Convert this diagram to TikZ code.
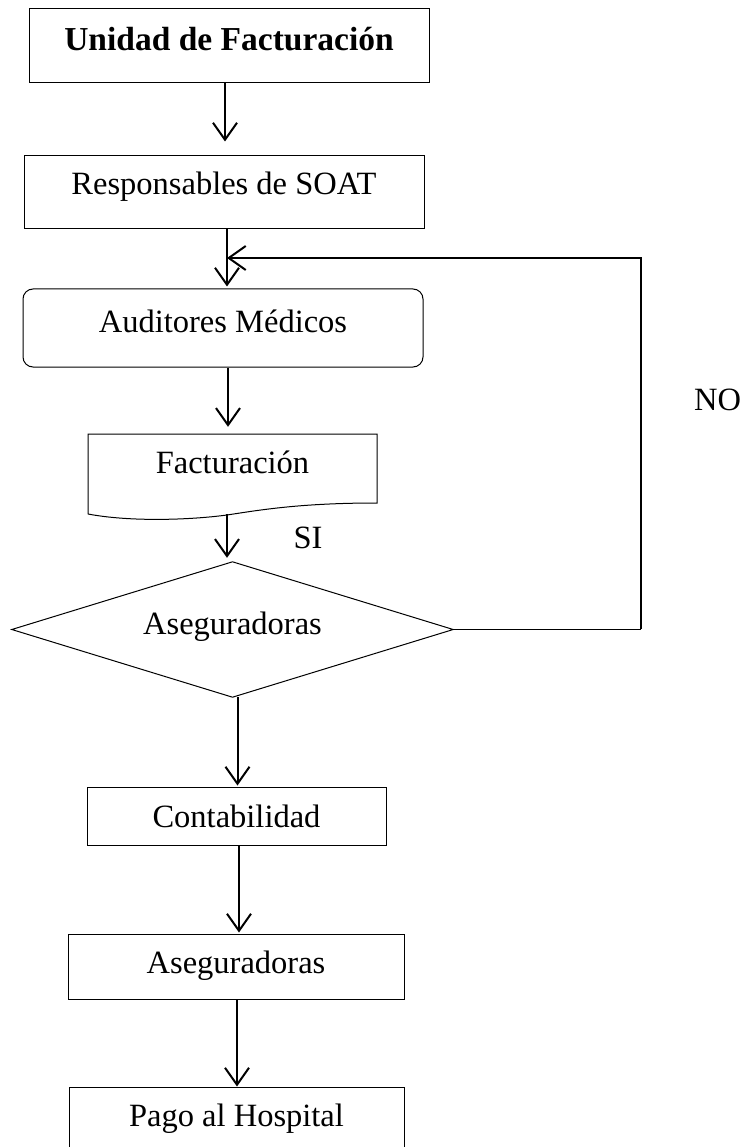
\documentclass[tikz,border=0pt]{standalone}
\usepackage{fontspec}
\setmainfont{Liberation Serif}
\usetikzlibrary{arrows.meta,calc}
\begin{document}
\begin{tikzpicture}[x=1pt,y=-1pt,
  txt/.style={font=\fontsize{32.5}{38}\selectfont},
  stepbox/.style={txt,draw,line width=1pt,inner sep=0pt,text height=21.5pt},
  conn/.style={line width=2pt,-{Straight Barb[length=17pt,width=24pt,line width=2pt]}},
  loopline/.style={line width=1.2pt}]
\clip (0,0) rectangle (746,1147);

% process boxes
\node[stepbox,minimum width=400pt,minimum height=74pt,text depth=12.5pt,
      font=\fontsize{33.5}{39}\selectfont\bfseries,text height=22.5pt]
  (u1) at (229,46) {Unidad de Facturación};
\node[stepbox,minimum width=400pt,minimum height=73pt,text depth=16.5pt]
  (soat) at (224,192.5) {Responsables de SOAT};
\node[stepbox,rounded corners=10pt,minimum width=400pt,minimum height=78pt,text depth=13.5pt]
  (aud) at (223,328) {Auditores Médicos};

% document shape with wavy bottom
\node[txt,inner sep=0pt,minimum width=289pt,minimum height=69pt,text height=21.5pt,text depth=12.5pt]
  (fact) at (232.5,468.5) {Facturación};
\draw[line width=1pt] (88,514) -- (88,434) -- (377,434) -- (377,503)
  .. controls (300,503) and (260,510) .. (227,515)
  .. controls (190,520) and (130,522) .. (88,514);

% decision: a diamond spanning the node's four side anchors
\node[txt,inner sep=0pt,minimum width=441pt,minimum height=135pt,text height=21.5pt,text depth=12.5pt]
  (dia) at (232.5,629.5) {Aseguradoras};
\draw[line width=1pt] (dia.north) -- (dia.east) -- (dia.south) -- (dia.west) -- cycle;

\node[stepbox,minimum width=299pt,minimum height=58pt,text height=22pt,text depth=0pt]
  (cont) at (236.5,816) {Contabilidad};
\node[stepbox,minimum width=336pt,minimum height=65pt,text depth=8.5pt]
  (aseg) at (236,966.5) {Aseguradoras};
\node[stepbox,minimum width=335pt,minimum height=73pt,text depth=16.5pt]
  (pago) at (236.5,1123.5) {Pago al Hospital};

% labels
\node[txt,anchor=base,inner sep=0pt] (si) at (308,548) {SI};
\node[txt,anchor=base,inner sep=0pt] (no) at (717.5,410) {NO};

% connectors
\draw[conn,shorten >=14pt] ([xshift=-4pt]u1.south) -- ([xshift=-4pt]u1.south |- soat.north);
\draw[conn,shorten >=2pt] ([xshift=3pt]soat.south) -- ([xshift=3pt]soat.south |- aud.north);
\draw[conn,shorten >=7pt] ([xshift=5pt]aud.south) -- ([xshift=5pt]aud.south |- fact.north);
\draw[conn,shorten <=11pt,shorten >=4pt] ([xshift=-5.5pt]fact.south) -- ([xshift=-5.5pt]fact.south |- dia.north);
\draw[conn,shorten >=1pt] ([xshift=5pt]dia.south) -- ([xshift=5pt]dia.south |- cont.north);
\draw[conn,shorten >=1pt] ([xshift=2.5pt]cont.south) -- ([xshift=2.5pt]cont.south |- aseg.north);
\draw[conn] ([xshift=1pt]aseg.south) -- ([xshift=1pt]aseg.south |- pago.north);

% NO branch back to the audit step
\coordinate (corner) at (641,629.5);
\coordinate (entry) at (227,258);
\draw[loopline] (dia.east) -- (corner);
\draw[conn] ([yshift=0.6pt]corner) |- (entry);
\end{tikzpicture}
\end{document}
